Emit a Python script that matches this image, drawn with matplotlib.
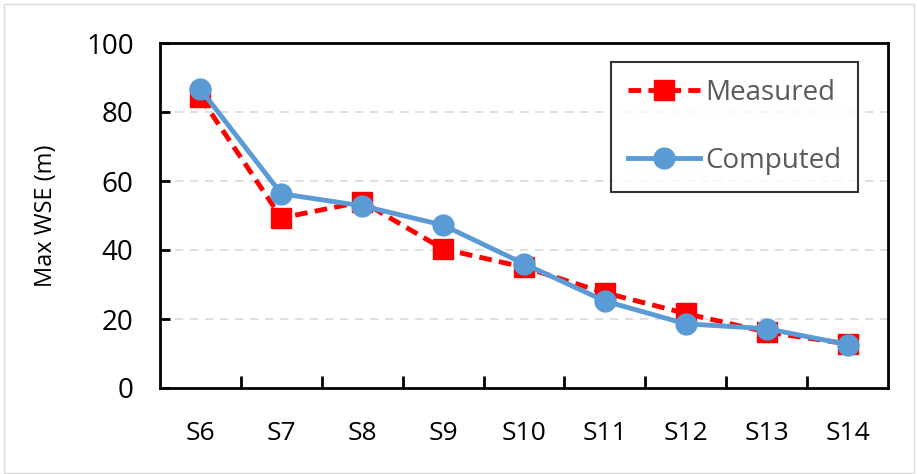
import matplotlib.pyplot as plt
from matplotlib.patches import Rectangle

plt.rcParams['font.family'] = ['Open Sans', 'DejaVu Sans']

sections = ["S6", "S7", "S8", "S9", "S10", "S11", "S12", "S13", "S14"]
measured = [84.3, 49.3, 54.0, 40.3, 35.0, 27.6, 21.6, 16.2, 12.8]
computed = [86.6, 56.3, 52.8, 47.2, 36.0, 25.2, 18.6, 17.2, 12.6]
y_ticks = [0, 20, 40, 60, 80, 100]

fig = plt.figure(figsize=(9.17, 4.74), dpi=100)
ax = fig.add_axes([160 / 917, 1 - 388 / 474, 728 / 917, 345 / 474])

x = list(range(len(sections)))
ax.plot(x, measured, color="#FF0000", lw=3.5, ls=(0, (2.6, 1.5)), marker="s",
        ms=14, label="Measured", zorder=3)
ax.plot(x, computed, color="#5B9BD5", lw=3.5, marker="o", ms=15,
        label="Computed", zorder=4)

ax.set_xlim(-0.5, len(sections) - 0.5)
ax.set_ylim(0, 100)
ax.set_yticks(y_ticks)
ax.set_yticklabels([str(v) for v in y_ticks], fontsize=20)
ax.set_xticks(x)
ax.set_xticklabels(sections, fontsize=19)
ax.tick_params(axis="x", length=0, pad=24)
ax.set_xticks([i + 0.5 for i in x[:-1]], minor=True)
ax.tick_params(axis="x", which="minor", length=9, width=2, direction="in")
ax.tick_params(axis="y", length=7, width=2, direction="in", pad=19)
ax.set_ylabel("Max WSE (m)", fontsize=17, labelpad=20)
for v in y_ticks[1:-1]:
    ax.axhline(v, color="#D9D9D9", lw=1.2, ls=(0, (5, 4)), zorder=1)
for s in ax.spines.values():
    s.set_linewidth(2)

leg = ax.legend(loc="upper right", bbox_to_anchor=(0.959, 0.945), fontsize=20,
                frameon=True, fancybox=False, edgecolor="black",
                handlelength=2.6, handletextpad=0.2, labelspacing=1.45,
                borderpad=0.6, borderaxespad=0)
leg.get_frame().set_linewidth(1.5)
for t in leg.get_texts():
    t.set_color("#595959")

fig.patches.append(Rectangle((4 / 917, 0.002), 910 / 917, 0.99, transform=fig.transFigure,
                             fill=False, edgecolor="#D9D9D9", lw=1))

fig.savefig("out.png", dpi=100)
